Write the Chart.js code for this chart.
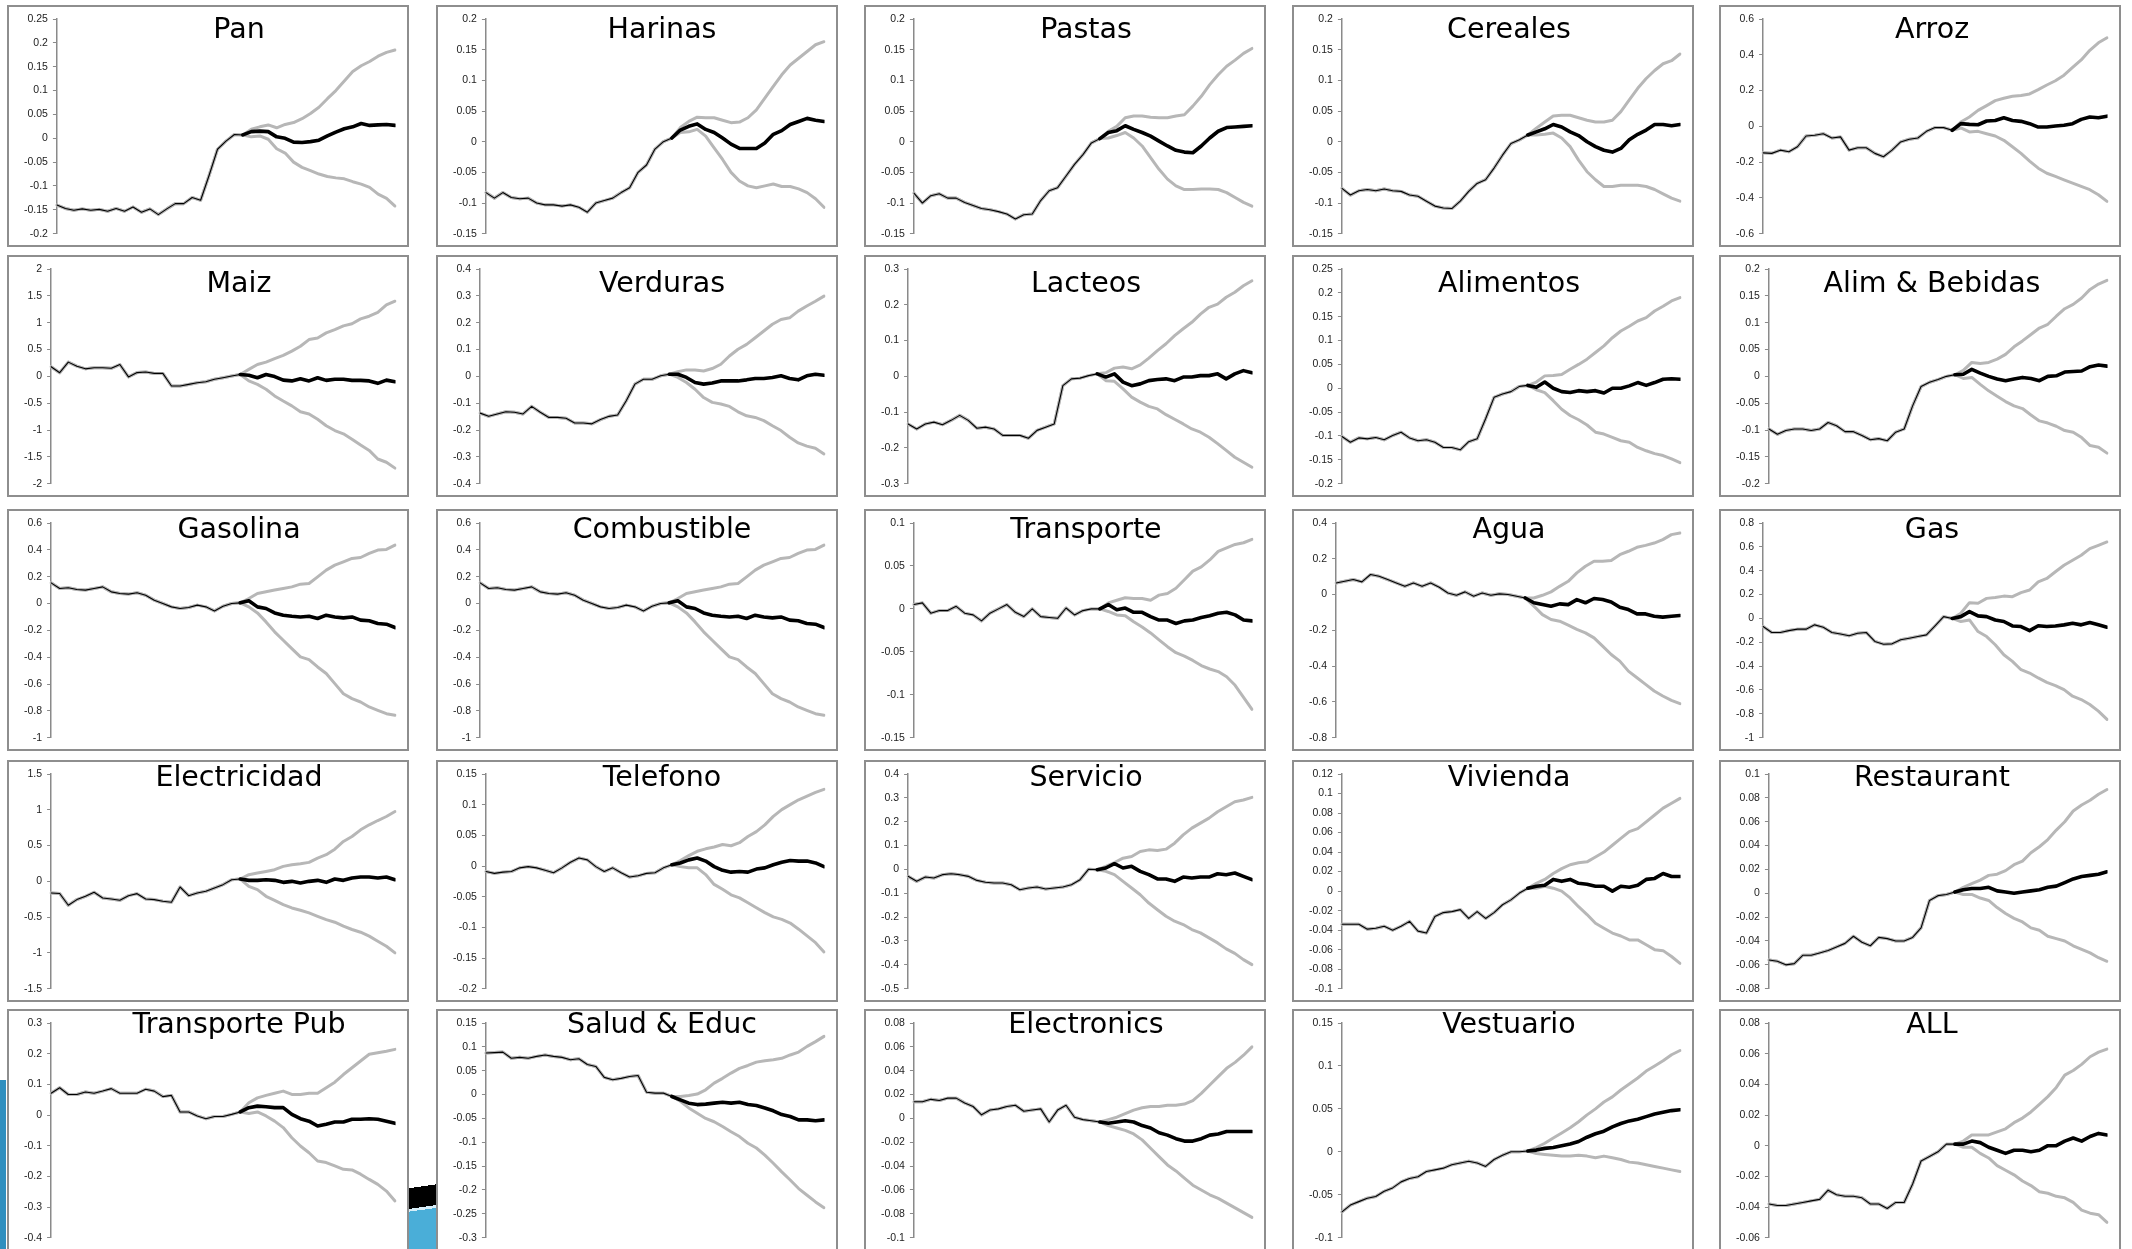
<!DOCTYPE html>
<html><head><meta charset="utf-8">
<script src="https://cdn.jsdelivr.net/npm/chart.js@4.4.1/dist/chart.umd.min.js"></script>
<style>
html,body{margin:0;padding:0;background:#fff;width:2132px;height:1249px;overflow:hidden;position:relative}
.panel{position:absolute;box-sizing:border-box;border:2px solid #8e8e8e;background:#fff}
.panel canvas{position:absolute;left:0;top:0}
.title{position:absolute;font-family:"DejaVu Sans";font-size:28.5px;line-height:1;white-space:nowrap;color:#000;transform:translateX(-50%)}
.art{position:absolute}
</style>
</head><body>
<div class="art" style="left:0;top:1080px;width:6px;height:169px;background:#2f8fbf"></div>
<div class="art" style="left:409px;top:1184px;width:30px;height:65px;background:linear-gradient(172deg,#fff 0 6%,#000 6% 36%,#d8eef8 36% 40%,#4aaed8 40%)"></div>
<script>
// ---- data: each panel = pre-period (shared) + post-period centre / upper / lower ----
const TITLES = ['Pan','Harinas','Pastas','Cereales','Arroz','Maiz','Verduras','Lacteos','Alimentos','Alim & Bebidas','Gasolina','Combustible','Transporte','Agua','Gas','Electricidad','Telefono','Servicio','Vivienda','Restaurant','Transporte Pub','Salud & Educ','Electronics','Vestuario','ALL'];
const Y_MIN  = [-0.2,-0.15,-0.15,-0.15,-0.6, -2,-0.4,-0.3,-0.2,-0.2, -1,-1,-0.15,-0.8,-1, -1.5,-0.2,-0.5,-0.1,-0.08, -0.4,-0.3,-0.1,-0.1,-0.06];
const Y_MAX  = [0.25,0.2,0.2,0.2,0.6, 2,0.4,0.3,0.25,0.2, 0.6,0.6,0.1,0.4,0.8, 1.5,0.15,0.4,0.12,0.1, 0.3,0.15,0.08,0.15,0.08];
const Y_STEP = [0.05,0.05,0.05,0.05,0.2, 0.5,0.1,0.1,0.05,0.05, 0.2,0.2,0.05,0.2,0.2, 0.5,0.05,0.1,0.02,0.02, 0.1,0.05,0.02,0.05,0.02];

const PAN_PRE = [-0.14,-0.147,-0.151,-0.148,-0.151,-0.149,-0.153,-0.147,-0.153,-0.144,-0.155,-0.148,-0.16,-0.148,-0.137,-0.137,-0.124,-0.13,-0.078,-0.023,-0.006,0.008,0.007];
const PAN_MID = [0.014,0.015,0.014,0.003,0.0,-0.008,-0.009,-0.007,-0.004,0.005,0.013,0.02,0.024,0.031,0.027,0.028,0.029,0.027];
const PAN_UP  = [0.019,0.024,0.028,0.022,0.029,0.033,0.041,0.052,0.065,0.083,0.1,0.12,0.14,0.152,0.161,0.172,0.18,0.185];
const PAN_LO  = [0.003,0.005,-0.002,-0.022,-0.031,-0.05,-0.061,-0.068,-0.075,-0.08,-0.083,-0.085,-0.091,-0.096,-0.103,-0.117,-0.126,-0.142];

const HAR_PRE = [-0.083,-0.092,-0.083,-0.091,-0.093,-0.092,-0.1,-0.103,-0.103,-0.105,-0.103,-0.107,-0.115,-0.1,-0.096,-0.092,-0.083,-0.075,-0.05,-0.038,-0.012,0.0,0.006];
const HAR_MID = [0.019,0.025,0.029,0.02,0.015,0.006,-0.004,-0.011,-0.011,-0.011,-0.002,0.012,0.018,0.028,0.033,0.038,0.035,0.033];
const HAR_UP  = [0.023,0.033,0.04,0.039,0.039,0.035,0.031,0.032,0.039,0.052,0.071,0.09,0.109,0.125,0.136,0.147,0.158,0.163];
const HAR_LO  = [0.015,0.016,0.02,0.009,-0.01,-0.029,-0.05,-0.064,-0.072,-0.075,-0.072,-0.069,-0.073,-0.073,-0.077,-0.083,-0.093,-0.107];

const PAS_PRE = [-0.084,-0.1,-0.088,-0.085,-0.092,-0.092,-0.099,-0.104,-0.109,-0.111,-0.114,-0.118,-0.126,-0.119,-0.118,-0.096,-0.08,-0.075,-0.056,-0.037,-0.021,-0.002,0.005];
const PAS_MID = [0.015,0.018,0.026,0.02,0.015,0.009,0.001,-0.007,-0.014,-0.017,-0.018,-0.007,0.006,0.017,0.023,0.024,0.025,0.026];
const PAS_UP  = [0.017,0.025,0.039,0.042,0.042,0.04,0.039,0.039,0.042,0.044,0.058,0.074,0.093,0.109,0.123,0.133,0.144,0.152];
const PAS_LO  = [0.006,0.01,0.015,0.006,-0.007,-0.026,-0.045,-0.061,-0.072,-0.078,-0.078,-0.077,-0.077,-0.078,-0.083,-0.091,-0.099,-0.105];

const CER_PRE = [-0.076,-0.087,-0.08,-0.078,-0.08,-0.077,-0.08,-0.081,-0.087,-0.089,-0.097,-0.105,-0.108,-0.109,-0.097,-0.081,-0.068,-0.062,-0.043,-0.022,-0.003,0.003,0.011];
const CER_MID = [0.016,0.021,0.028,0.024,0.016,0.01,0.0,-0.008,-0.014,-0.017,-0.011,0.003,0.012,0.019,0.028,0.028,0.026,0.028];
const CER_UP  = [0.022,0.032,0.042,0.043,0.043,0.039,0.035,0.032,0.032,0.035,0.049,0.068,0.087,0.103,0.116,0.127,0.132,0.143];
const CER_LO  = [0.011,0.012,0.014,0.006,-0.008,-0.03,-0.049,-0.062,-0.073,-0.073,-0.071,-0.071,-0.071,-0.073,-0.078,-0.085,-0.092,-0.097];

const ARR_PRE = [-0.148,-0.151,-0.133,-0.142,-0.114,-0.054,-0.05,-0.041,-0.065,-0.059,-0.133,-0.12,-0.12,-0.151,-0.17,-0.133,-0.087,-0.072,-0.065,-0.028,-0.007,-0.007,-0.022];
const ARR_MID = [0.015,0.011,0.009,0.03,0.033,0.048,0.033,0.028,0.015,-0.004,-0.004,0.002,0.006,0.015,0.039,0.052,0.048,0.057];
const ARR_UP  = [0.024,0.052,0.089,0.116,0.144,0.157,0.168,0.172,0.181,0.205,0.231,0.255,0.286,0.329,0.371,0.425,0.467,0.495];
const ARR_LO  = [-0.009,-0.031,-0.028,-0.041,-0.054,-0.078,-0.114,-0.151,-0.194,-0.234,-0.262,-0.28,-0.299,-0.317,-0.336,-0.354,-0.382,-0.419];

const MAI_PRE = [0.18,0.068,0.265,0.19,0.14,0.16,0.16,0.15,0.22,-0.01,0.07,0.08,0.055,0.055,-0.18,-0.18,-0.15,-0.12,-0.1,-0.055,-0.025,0.005,0.035];
const MAI_MID = [0.02,-0.025,0.035,-0.005,-0.07,-0.085,-0.045,-0.085,-0.025,-0.075,-0.055,-0.055,-0.075,-0.075,-0.085,-0.13,-0.07,-0.1];
const MAI_UP  = [0.13,0.22,0.265,0.33,0.39,0.47,0.56,0.685,0.715,0.81,0.87,0.94,0.98,1.07,1.12,1.19,1.33,1.4];
const MAI_LO  = [-0.085,-0.15,-0.24,-0.365,-0.46,-0.55,-0.66,-0.7,-0.8,-0.92,-1.01,-1.07,-1.17,-1.28,-1.38,-1.54,-1.6,-1.71];

const VER_PRE = [-0.137,-0.149,-0.14,-0.132,-0.134,-0.14,-0.112,-0.134,-0.153,-0.153,-0.156,-0.174,-0.174,-0.177,-0.161,-0.149,-0.144,-0.091,-0.029,-0.011,-0.011,0.002,0.008];
const VER_MID = [0.008,-0.004,-0.023,-0.029,-0.025,-0.017,-0.017,-0.017,-0.013,-0.008,-0.008,-0.004,0.002,-0.008,-0.013,0.002,0.008,0.004];
const VER_UP  = [0.017,0.024,0.024,0.02,0.029,0.045,0.076,0.101,0.119,0.144,0.169,0.194,0.212,0.218,0.243,0.262,0.28,0.299];
const VER_LO  = [-0.004,-0.023,-0.048,-0.079,-0.097,-0.103,-0.112,-0.132,-0.147,-0.153,-0.165,-0.184,-0.202,-0.227,-0.248,-0.26,-0.268,-0.289];

const LAC_PRE = [-0.133,-0.147,-0.133,-0.128,-0.135,-0.123,-0.109,-0.123,-0.145,-0.142,-0.147,-0.165,-0.165,-0.165,-0.173,-0.151,-0.142,-0.133,-0.026,-0.007,-0.005,0.002,0.007];
const LAC_MID = [-0.002,0.007,-0.016,-0.026,-0.021,-0.012,-0.009,-0.007,-0.012,-0.002,-0.002,0.002,0.002,0.007,-0.007,0.007,0.016,0.01];
const LAC_UP  = [0.01,0.023,0.026,0.021,0.032,0.051,0.072,0.091,0.114,0.133,0.151,0.174,0.193,0.202,0.221,0.235,0.253,0.267];
const LAC_LO  = [-0.012,-0.014,-0.035,-0.058,-0.072,-0.084,-0.091,-0.107,-0.12,-0.133,-0.147,-0.156,-0.17,-0.188,-0.207,-0.226,-0.24,-0.254];

const ALI_PRE = [-0.101,-0.113,-0.104,-0.106,-0.103,-0.108,-0.099,-0.092,-0.104,-0.11,-0.108,-0.113,-0.124,-0.124,-0.129,-0.112,-0.106,-0.064,-0.019,-0.012,-0.007,0.004,0.006];
const ALI_MID = [0.002,0.013,0.0,-0.007,-0.009,-0.005,-0.007,-0.005,-0.01,0.0,0.0,0.005,0.012,0.006,0.012,0.019,0.02,0.019];
const ALI_UP  = [0.013,0.026,0.027,0.029,0.04,0.05,0.061,0.075,0.089,0.106,0.12,0.13,0.141,0.148,0.162,0.172,0.183,0.19];
const ALI_LO  = [-0.003,-0.009,-0.026,-0.044,-0.057,-0.066,-0.077,-0.092,-0.096,-0.103,-0.11,-0.113,-0.124,-0.131,-0.137,-0.141,-0.148,-0.156];

const ALB_PRE = [-0.098,-0.108,-0.101,-0.098,-0.098,-0.101,-0.098,-0.086,-0.092,-0.103,-0.103,-0.11,-0.118,-0.116,-0.12,-0.104,-0.098,-0.055,-0.019,-0.011,-0.006,0.0,0.003];
const ALB_MID = [0.004,0.013,0.006,0.0,-0.005,-0.008,-0.005,-0.002,-0.004,-0.008,0.0,0.001,0.008,0.009,0.01,0.018,0.021,0.019];
const ALB_UP  = [0.011,0.026,0.024,0.026,0.032,0.041,0.055,0.066,0.078,0.09,0.097,0.112,0.126,0.134,0.146,0.162,0.172,0.179];
const ALB_LO  = [-0.004,-0.002,-0.015,-0.027,-0.037,-0.047,-0.055,-0.06,-0.072,-0.083,-0.087,-0.093,-0.101,-0.104,-0.114,-0.129,-0.132,-0.143];

const GSL_PRE = [0.154,0.112,0.117,0.104,0.1,0.112,0.124,0.087,0.075,0.07,0.08,0.062,0.025,0.0,-0.025,-0.037,-0.03,-0.012,-0.025,-0.055,-0.02,0.0,0.005];
const GSL_MID = [0.02,-0.025,-0.037,-0.07,-0.087,-0.095,-0.1,-0.095,-0.112,-0.087,-0.1,-0.107,-0.1,-0.124,-0.129,-0.149,-0.154,-0.179];
const GSL_UP  = [0.037,0.075,0.087,0.1,0.112,0.124,0.144,0.149,0.199,0.249,0.286,0.311,0.336,0.343,0.373,0.398,0.403,0.435];
const GSL_LO  = [-0.025,-0.07,-0.137,-0.211,-0.274,-0.336,-0.398,-0.418,-0.473,-0.522,-0.597,-0.672,-0.709,-0.734,-0.771,-0.796,-0.821,-0.833];

const COM_PRE = [0.154,0.112,0.117,0.104,0.1,0.112,0.124,0.087,0.075,0.07,0.08,0.062,0.025,0.0,-0.025,-0.037,-0.03,-0.012,-0.025,-0.055,-0.02,0.0,0.005];
const COM_MID = [0.02,-0.025,-0.037,-0.07,-0.087,-0.095,-0.1,-0.095,-0.112,-0.087,-0.1,-0.107,-0.1,-0.124,-0.129,-0.149,-0.154,-0.179];
const COM_UP  = [0.037,0.075,0.087,0.1,0.112,0.124,0.144,0.149,0.199,0.249,0.286,0.311,0.336,0.343,0.373,0.398,0.403,0.435];
const COM_LO  = [-0.025,-0.07,-0.137,-0.211,-0.274,-0.336,-0.398,-0.418,-0.473,-0.522,-0.597,-0.672,-0.709,-0.734,-0.771,-0.796,-0.821,-0.833];

const TRA_PRE = [0.005,0.007,-0.005,-0.002,-0.002,0.003,-0.005,-0.007,-0.014,-0.005,0.0,0.005,-0.004,-0.009,0.0,-0.009,-0.01,-0.011,0.001,-0.007,-0.002,0.0,0.0];
const TRA_MID = [0.005,-0.001,0.001,-0.004,-0.004,-0.009,-0.013,-0.013,-0.017,-0.014,-0.013,-0.01,-0.008,-0.005,-0.004,-0.007,-0.013,-0.014];
const TRA_UP  = [0.007,0.01,0.013,0.012,0.012,0.01,0.016,0.018,0.024,0.034,0.044,0.049,0.057,0.067,0.071,0.075,0.077,0.081];
const TRA_LO  = [-0.003,-0.007,-0.008,-0.015,-0.021,-0.028,-0.036,-0.044,-0.051,-0.055,-0.06,-0.066,-0.07,-0.073,-0.079,-0.089,-0.103,-0.117];

const AGU_PRE = [0.065,0.074,0.084,0.071,0.112,0.102,0.084,0.065,0.046,0.065,0.046,0.065,0.041,0.009,-0.004,0.015,-0.009,0.009,-0.004,0.004,0.0,-0.009,-0.019];
const AGU_MID = [-0.046,-0.056,-0.065,-0.052,-0.056,-0.028,-0.046,-0.022,-0.028,-0.041,-0.071,-0.084,-0.108,-0.108,-0.121,-0.126,-0.121,-0.117];
const AGU_UP  = [-0.019,-0.004,0.015,0.046,0.074,0.121,0.158,0.186,0.186,0.19,0.223,0.242,0.264,0.275,0.288,0.307,0.335,0.344];
const AGU_LO  = [-0.065,-0.112,-0.139,-0.149,-0.171,-0.195,-0.214,-0.242,-0.288,-0.335,-0.372,-0.428,-0.465,-0.502,-0.539,-0.567,-0.591,-0.61];

const GAS_PRE = [-0.068,-0.118,-0.118,-0.102,-0.09,-0.09,-0.054,-0.074,-0.118,-0.13,-0.146,-0.124,-0.118,-0.193,-0.216,-0.213,-0.179,-0.166,-0.152,-0.138,-0.063,0.015,0.0];
const GAS_MID = [0.015,0.057,0.021,0.015,-0.013,-0.026,-0.063,-0.068,-0.102,-0.061,-0.068,-0.063,-0.054,-0.04,-0.054,-0.035,-0.054,-0.074];
const GAS_UP  = [0.043,0.132,0.127,0.168,0.176,0.187,0.182,0.216,0.238,0.307,0.335,0.391,0.446,0.488,0.53,0.585,0.613,0.641];
const GAS_LO  = [-0.026,-0.013,-0.11,-0.152,-0.221,-0.305,-0.36,-0.43,-0.458,-0.499,-0.536,-0.563,-0.597,-0.652,-0.68,-0.722,-0.777,-0.847];

const ELE_PRE = [-0.163,-0.17,-0.334,-0.255,-0.209,-0.153,-0.232,-0.246,-0.265,-0.2,-0.172,-0.246,-0.255,-0.279,-0.293,-0.079,-0.2,-0.163,-0.139,-0.093,-0.046,0.023,0.033];
const ELE_MID = [0.014,0.014,0.023,0.014,-0.014,0.0,-0.023,0.0,0.014,-0.014,0.033,0.014,0.046,0.06,0.06,0.046,0.06,0.023];
const ELE_UP  = [0.093,0.116,0.139,0.163,0.209,0.232,0.246,0.265,0.325,0.372,0.45,0.557,0.627,0.72,0.79,0.85,0.906,0.975];
const ELE_LO  = [-0.07,-0.116,-0.209,-0.265,-0.325,-0.372,-0.404,-0.441,-0.488,-0.534,-0.571,-0.627,-0.673,-0.711,-0.766,-0.836,-0.906,-0.999];

const TEL_PRE = [-0.009,-0.012,-0.01,-0.009,-0.003,-0.001,-0.003,-0.007,-0.011,-0.003,0.006,0.013,0.01,-0.001,-0.009,-0.003,-0.011,-0.018,-0.016,-0.012,-0.011,-0.003,0.002];
const TEL_MID = [0.005,0.01,0.013,0.008,-0.001,-0.007,-0.01,-0.009,-0.01,-0.005,-0.003,0.002,0.006,0.009,0.008,0.008,0.005,-0.001];
const TEL_UP  = [0.009,0.017,0.024,0.028,0.031,0.035,0.033,0.038,0.048,0.056,0.067,0.081,0.092,0.1,0.108,0.114,0.12,0.125];
const TEL_LO  = [-0.001,-0.003,-0.003,-0.014,-0.03,-0.038,-0.047,-0.052,-0.06,-0.068,-0.076,-0.083,-0.087,-0.093,-0.103,-0.114,-0.125,-0.14];

const SER_PRE = [-0.029,-0.05,-0.032,-0.036,-0.022,-0.018,-0.022,-0.029,-0.046,-0.054,-0.057,-0.057,-0.064,-0.085,-0.078,-0.074,-0.082,-0.078,-0.074,-0.064,-0.043,0.001,-0.001];
const SER_MID = [0.006,0.024,0.006,0.013,-0.008,-0.022,-0.04,-0.04,-0.05,-0.032,-0.036,-0.032,-0.032,-0.018,-0.022,-0.015,-0.029,-0.043];
const SER_UP  = [0.013,0.029,0.047,0.054,0.075,0.082,0.079,0.085,0.11,0.145,0.173,0.194,0.215,0.242,0.263,0.284,0.291,0.302];
const SER_LO  = [-0.008,-0.022,-0.05,-0.078,-0.106,-0.141,-0.169,-0.196,-0.217,-0.231,-0.252,-0.266,-0.287,-0.308,-0.333,-0.352,-0.378,-0.399];

const VIV_PRE = [-0.034,-0.034,-0.034,-0.039,-0.038,-0.036,-0.04,-0.036,-0.031,-0.041,-0.043,-0.026,-0.022,-0.021,-0.019,-0.028,-0.021,-0.028,-0.022,-0.014,-0.009,-0.002,0.003];
const VIV_MID = [0.005,0.006,0.012,0.01,0.012,0.008,0.007,0.005,0.005,0.0,0.005,0.004,0.006,0.012,0.013,0.018,0.015,0.015];
const VIV_UP  = [0.008,0.012,0.018,0.023,0.027,0.029,0.03,0.035,0.04,0.047,0.054,0.061,0.064,0.071,0.078,0.085,0.09,0.095];
const VIV_LO  = [0.003,0.005,0.003,0.0,-0.007,-0.016,-0.024,-0.033,-0.038,-0.043,-0.046,-0.05,-0.05,-0.055,-0.06,-0.061,-0.067,-0.074];

const RES_PRE = [-0.056,-0.057,-0.06,-0.059,-0.052,-0.052,-0.05,-0.048,-0.045,-0.042,-0.036,-0.041,-0.044,-0.037,-0.038,-0.04,-0.04,-0.037,-0.029,-0.006,-0.002,-0.001,0.001];
const RES_MID = [0.003,0.004,0.004,0.005,0.002,0.001,0.0,0.001,0.002,0.003,0.005,0.006,0.009,0.012,0.014,0.015,0.016,0.018];
const RES_UP  = [0.005,0.008,0.011,0.015,0.016,0.019,0.024,0.027,0.034,0.039,0.045,0.053,0.06,0.069,0.074,0.078,0.083,0.087];
const RES_LO  = [-0.001,-0.001,-0.004,-0.006,-0.012,-0.017,-0.021,-0.024,-0.029,-0.031,-0.036,-0.038,-0.04,-0.044,-0.047,-0.05,-0.054,-0.057];

const TPU_PRE = [0.071,0.089,0.067,0.067,0.075,0.071,0.078,0.086,0.071,0.071,0.071,0.084,0.078,0.06,0.064,0.01,0.01,-0.003,-0.012,-0.005,-0.005,0.002,0.01];
const TPU_MID = [0.024,0.029,0.027,0.024,0.024,0.002,-0.012,-0.02,-0.036,-0.03,-0.023,-0.023,-0.014,-0.014,-0.012,-0.014,-0.02,-0.027];
const TPU_UP  = [0.04,0.056,0.064,0.071,0.078,0.067,0.067,0.071,0.071,0.089,0.107,0.132,0.154,0.176,0.198,0.203,0.208,0.214];
const TPU_LO  = [0.005,0.01,-0.003,-0.02,-0.041,-0.074,-0.101,-0.123,-0.15,-0.155,-0.166,-0.177,-0.179,-0.193,-0.21,-0.226,-0.248,-0.28];

const SAL_PRE = [0.087,0.088,0.089,0.076,0.078,0.076,0.08,0.083,0.08,0.078,0.073,0.075,0.063,0.059,0.036,0.031,0.034,0.038,0.04,0.005,0.003,0.003,-0.004];
const SAL_MID = [-0.011,-0.018,-0.021,-0.02,-0.018,-0.016,-0.018,-0.016,-0.021,-0.023,-0.028,-0.034,-0.042,-0.046,-0.053,-0.053,-0.055,-0.053];
const SAL_UP  = [-0.004,-0.002,0.001,0.01,0.024,0.034,0.045,0.055,0.061,0.068,0.071,0.073,0.076,0.083,0.089,0.101,0.111,0.122];
const SAL_LO  = [-0.014,-0.028,-0.039,-0.05,-0.057,-0.067,-0.078,-0.088,-0.102,-0.112,-0.127,-0.144,-0.162,-0.179,-0.197,-0.211,-0.225,-0.237];

const ELC_PRE = [0.014,0.014,0.016,0.015,0.017,0.017,0.013,0.01,0.003,0.007,0.008,0.01,0.011,0.006,0.007,0.008,-0.003,0.007,0.011,0.001,-0.001,-0.002,-0.003];
const ELC_MID = [-0.004,-0.003,-0.002,-0.003,-0.006,-0.008,-0.012,-0.014,-0.017,-0.019,-0.019,-0.017,-0.014,-0.013,-0.011,-0.011,-0.011,-0.011];
const ELC_UP  = [-0.001,0.001,0.004,0.007,0.009,0.01,0.01,0.011,0.011,0.012,0.015,0.021,0.028,0.035,0.042,0.047,0.053,0.06];
const ELC_LO  = [-0.006,-0.008,-0.01,-0.013,-0.018,-0.025,-0.032,-0.039,-0.044,-0.05,-0.056,-0.06,-0.064,-0.067,-0.071,-0.075,-0.079,-0.083];

const VES_PRE = [-0.07,-0.062,-0.058,-0.054,-0.052,-0.046,-0.042,-0.035,-0.031,-0.029,-0.023,-0.021,-0.019,-0.015,-0.013,-0.011,-0.013,-0.017,-0.009,-0.004,0.0,0.0,0.001];
const VES_MID = [0.002,0.004,0.005,0.007,0.009,0.012,0.017,0.021,0.024,0.029,0.033,0.036,0.038,0.041,0.044,0.046,0.048,0.049];
const VES_UP  = [0.005,0.01,0.016,0.022,0.028,0.035,0.043,0.05,0.058,0.064,0.072,0.079,0.086,0.094,0.1,0.106,0.113,0.118];
const VES_LO  = [-0.002,-0.003,-0.004,-0.005,-0.005,-0.004,-0.005,-0.007,-0.005,-0.007,-0.009,-0.012,-0.013,-0.015,-0.017,-0.019,-0.021,-0.023];

const ALL_PRE = [-0.038,-0.039,-0.039,-0.038,-0.037,-0.036,-0.035,-0.029,-0.032,-0.033,-0.033,-0.034,-0.038,-0.038,-0.041,-0.037,-0.037,-0.025,-0.01,-0.007,-0.004,0.001,0.001];
const ALL_MID = [0.001,0.003,0.002,-0.001,-0.003,-0.005,-0.003,-0.003,-0.004,-0.003,0.0,0.0,0.003,0.005,0.003,0.006,0.008,0.007];
const ALL_UP  = [0.003,0.007,0.007,0.007,0.009,0.011,0.015,0.018,0.022,0.027,0.032,0.038,0.046,0.049,0.053,0.058,0.061,0.063];
const ALL_LO  = [-0.001,-0.001,-0.005,-0.008,-0.013,-0.016,-0.019,-0.023,-0.026,-0.03,-0.031,-0.033,-0.034,-0.037,-0.042,-0.044,-0.045,-0.05];

const SERIES = [
  [PAN_PRE,PAN_MID,PAN_UP,PAN_LO],[HAR_PRE,HAR_MID,HAR_UP,HAR_LO],[PAS_PRE,PAS_MID,PAS_UP,PAS_LO],[CER_PRE,CER_MID,CER_UP,CER_LO],[ARR_PRE,ARR_MID,ARR_UP,ARR_LO],
  [MAI_PRE,MAI_MID,MAI_UP,MAI_LO],[VER_PRE,VER_MID,VER_UP,VER_LO],[LAC_PRE,LAC_MID,LAC_UP,LAC_LO],[ALI_PRE,ALI_MID,ALI_UP,ALI_LO],[ALB_PRE,ALB_MID,ALB_UP,ALB_LO],
  [GSL_PRE,GSL_MID,GSL_UP,GSL_LO],[COM_PRE,COM_MID,COM_UP,COM_LO],[TRA_PRE,TRA_MID,TRA_UP,TRA_LO],[AGU_PRE,AGU_MID,AGU_UP,AGU_LO],[GAS_PRE,GAS_MID,GAS_UP,GAS_LO],
  [ELE_PRE,ELE_MID,ELE_UP,ELE_LO],[TEL_PRE,TEL_MID,TEL_UP,TEL_LO],[SER_PRE,SER_MID,SER_UP,SER_LO],[VIV_PRE,VIV_MID,VIV_UP,VIV_LO],[RES_PRE,RES_MID,RES_UP,RES_LO],
  [TPU_PRE,TPU_MID,TPU_UP,TPU_LO],[SAL_PRE,SAL_MID,SAL_UP,SAL_LO],[ELC_PRE,ELC_MID,ELC_UP,ELC_LO],[VES_PRE,VES_MID,VES_UP,VES_LO],[ALL_PRE,ALL_MID,ALL_UP,ALL_LO]
];

// ---- layout ----
const COL_LEFT = [7, 436, 864, 1292, 1719];
const ROW_TOP = [5, 255, 509, 760, 1009];
const PANEL_W = 402, PANEL_H = 242;
const TITLE_CX = [239, 662, 1086, 1509, 1932];
const TITLE_BASE = [39, 293, 539, 787, 1034];

TITLES.forEach((title, k) => {
  const r = Math.floor(k / 5), c = k % 5;
  const [pre, mid, up, lo] = SERIES[k];
  const div = document.createElement('div');
  div.className = 'panel';
  div.style.left = COL_LEFT[c] + 'px';
  div.style.top = ROW_TOP[r] + 'px';
  div.style.width = PANEL_W + 'px';
  div.style.height = PANEL_H + 'px';
  const cv = document.createElement('canvas');
  cv.width = PANEL_W - 4; cv.height = PANEL_H - 4;
  div.appendChild(cv);
  document.body.appendChild(div);

  const t = document.createElement('div');
  t.className = 'title';
  t.textContent = title;
  t.style.left = TITLE_CX[c] + 'px';
  t.style.top = (TITLE_BASE[r] - 24) + 'px';
  document.body.appendChild(t);

  const split = pre.length - 1;
  const labels = pre.concat(mid).map((_, i) => i);
  const common = {pointRadius: 0, tension: 0, borderJoinStyle: 'round', borderCapStyle: 'round', fill: false};
  new Chart(cv, {
    type: 'line',
    data: {
      labels,
      datasets: [
        Object.assign({data: pre.concat(mid), borderColor: '#000', borderWidth: 1.1,
          segment: {borderWidth: s => s.p0DataIndex >= split ? 3.6 : 1.1}}, common),
        Object.assign({data: pre.concat(up), borderColor: '#b7b7b7', borderWidth: 3}, common),
        Object.assign({data: pre.concat(lo), borderColor: '#b7b7b7', borderWidth: 3}, common)
      ]
    },
    options: {
      responsive: false, animation: false, events: [],
      layout: {padding: {left: 10, right: 12, top: 12, bottom: 10}},
      plugins: {legend: {display: false}, tooltip: {enabled: false}, title: {display: false}},
      scales: {
        x: {display: false},
        y: {
          min: Y_MIN[k], max: Y_MAX[k],
          border: {display: true, color: '#8a8a8a', width: 1.5},
          grid: {drawOnChartArea: false, drawTicks: true, tickLength: 4, color: '#8a8a8a'},
          ticks: {stepSize: Y_STEP[k], autoSkip: false, padding: 5, color: '#222',
            font: {family: 'Liberation Sans', size: 10.5},
            callback: v => String(+Number(v).toFixed(4))}
        }
      }
    }
  });
});
</script>
</body></html>
